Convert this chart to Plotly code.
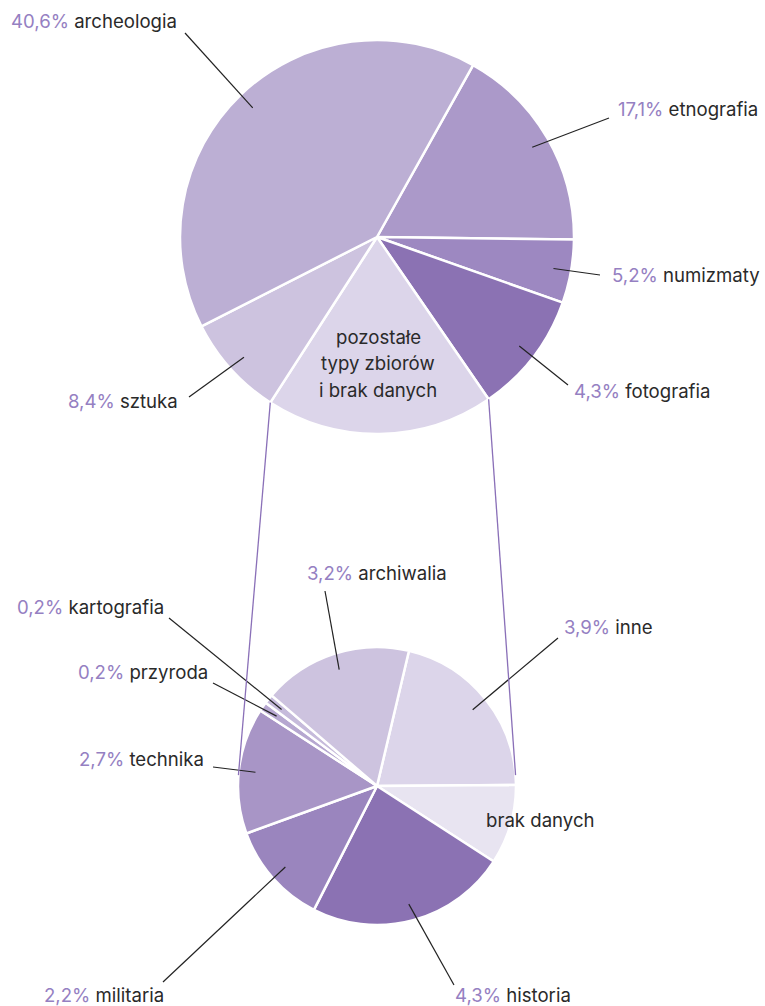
import math
import plotly.graph_objects as go

W, H = 765, 1006

# ---------------- data ----------------
top_labels = ["etnografia", "numizmaty", "fotografia",
              "pozostałe typy zbiorów i brak danych", "sztuka", "archeologia"]
top_values = [17.1, 5.2, 10.0, 18.7, 8.4, 40.6]
top_pct = ["17,1%", "5,2%", "4,3%", "", "8,4%", "40,6%"]

bottom_labels = ["inne", "brak danych", "historia", "militaria", "technika",
                 "przyroda", "kartografia", "archiwalia"]
bottom_values = [3.9, 1.7, 4.3, 2.2, 2.7, 0.2, 0.2, 3.2]
bottom_pct = ["3,9%", "", "4,3%", "2,2%", "2,7%", "0,2%", "0,2%", "3,2%"]

# ---------------- styles / layout ----------------
top_colors = ["#ab99c9", "#9d88c1", "#8b72b3", "#dcd5ea", "#cdc3df", "#bcafd4"]
bottom_colors = ["#dcd5ea", "#e8e4f1", "#8b72b3", "#9a85be", "#a895c6",
                 "#b6a7d0", "#c6bbdb", "#cdc3df"]
PCT_COLOR = "#9580c2"
TXT_COLOR = "#2a2a2a"
FONT = "Inter"
FS = 18.6

TOP = dict(cx=377, cy=237, r=197, rot=29.2, frac=0.91)
BOT = dict(cx=377, cy=786, r=139, rot=13.3, frac=0.88)

# label placement: name -> (x, y, xanchor, leader-end x, leader-end y)
top_place = {
    "archeologia": (10, 21, "left", 185, 33),
    "etnografia": (617, 109, "left", 609, 118),
    "numizmaty": (611, 275, "left", 600, 275),
    "fotografia": (573, 391, "left", 568, 385),
    "sztuka": (179, 401, "right", 189, 397),
}
bottom_place = {
    "archiwalia": (306, 573, "left", 325, 591),
    "kartografia": (16, 607, "left", 169, 618),
    "przyroda": (77, 672, "left", 213, 683),
    "technika": (78, 759, "left", 213, 767),
    "inne": (563, 627, "left", 558, 638),
    "militaria": (43, 995, "left", 163, 982),
    "historia": (454, 995, "left", 454, 985),
}
center_lines = [("pozostałe", 378, 337), ("typy zbiorów", 378, 363),
                ("i brak danych", 378, 390)]
brak_pos = (485, 820)
conn_end_angles = (85.5, 274.5)  # on lower circle


def px(x):
    return x / W


def py(y):
    return 1 - y / H


def domain(p):
    return dict(x=[px(p["cx"] - p["r"]), px(p["cx"] + p["r"])],
                y=[py(p["cy"] + p["r"]), py(p["cy"] - p["r"])])


def angles(values, rot):
    tot = sum(values)
    res = []
    a = rot
    for v in values:
        d = 360 * v / tot
        res.append((a, a + d))
        a += d
    return res


def point(p, ang, frac=1.0):
    t = math.radians(ang)
    return (p["cx"] + frac * p["r"] * math.sin(t),
            p["cy"] - frac * p["r"] * math.cos(t))


fig = go.Figure()
fig.add_trace(go.Pie(labels=top_labels, values=top_values, sort=False,
                     direction="clockwise", rotation=TOP["rot"],
                     marker=dict(colors=top_colors, line=dict(color="white", width=2.5)),
                     textinfo="none", hoverinfo="label+value", domain=domain(TOP),
                     showlegend=False))
fig.add_trace(go.Pie(labels=bottom_labels, values=bottom_values, sort=False,
                     direction="clockwise", rotation=BOT["rot"],
                     marker=dict(colors=bottom_colors, line=dict(color="white", width=2.5)),
                     textinfo="none", hoverinfo="label+value", domain=domain(BOT),
                     showlegend=False))

shapes = []
annotations = []


def label(x, y, pct, name, anchor):
    txt = (f"<span style='color:{PCT_COLOR}'>{pct}</span> {name}" if pct else name)
    annotations.append(dict(x=px(x), y=py(y), xref="paper", yref="paper",
                            text=txt, showarrow=False, xanchor=anchor,
                            yanchor="middle", borderpad=0,
                            font=dict(family=FONT, size=FS, color=TXT_COLOR)))


for p, labels, values, pcts, place in [
        (TOP, top_labels, top_values, top_pct, top_place),
        (BOT, bottom_labels, bottom_values, bottom_pct, bottom_place)]:
    angs = angles(values, p["rot"])
    for name, pct, (a0, a1) in zip(labels, pcts, angs):
        if name not in place:
            continue
        x, y, anc, lx, ly = place[name]
        ix, iy = point(p, (a0 + a1) / 2, p["frac"])
        shapes.append(dict(type="line", xref="paper", yref="paper",
                           x0=px(lx), y0=py(ly), x1=px(ix), y1=py(iy),
                           line=dict(color="#222222", width=1.2), layer="above"))
        label(x, y, pct, name, anc)

# connector lines from "pozostałe" slice edges to the lower pie
pa0, pa1 = angles(top_values, TOP["rot"])[3]
for a_top, a_bot in [(pa0, conn_end_angles[0]), (pa1, conn_end_angles[1])]:
    x0, y0 = point(TOP, a_top)
    x1, y1 = point(BOT, a_bot)
    shapes.append(dict(type="line", xref="paper", yref="paper",
                       x0=px(x0), y0=py(y0), x1=px(x1), y1=py(y1),
                       line=dict(color="#8a70b8", width=1.3), layer="above"))

for t, x, y in center_lines:
    label(x, y, "", t, "center")
label(brak_pos[0], brak_pos[1], "", "brak danych", "left")

fig.update_layout(width=W, height=H, margin=dict(l=0, r=0, t=0, b=0),
                  paper_bgcolor="white", plot_bgcolor="white",
                  shapes=shapes, annotations=annotations,
                  font=dict(family=FONT))
fig.write_html("out.html", config={"displayModeBar": False},
               post_script="document.body.style.margin='0px';"
                           "document.body.style.overflow='hidden';")
